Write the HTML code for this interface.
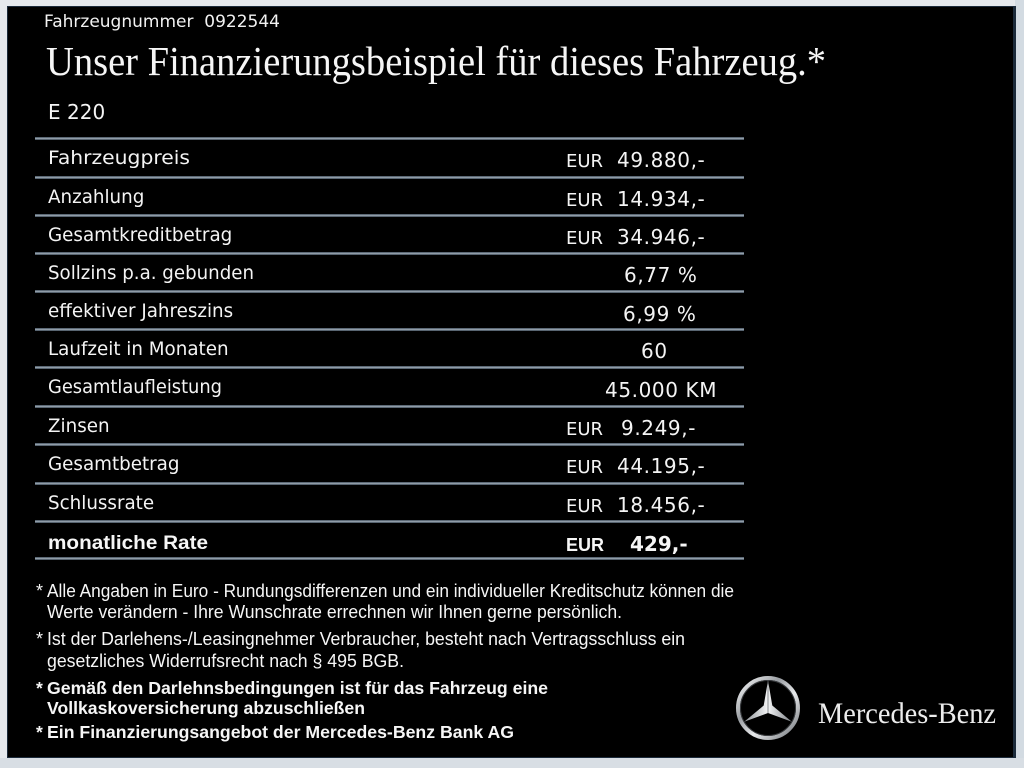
<!DOCTYPE html>
<html>
<head>
<meta charset="utf-8">
<style>
  html,body{margin:0;padding:0;background:#e5e8ec;}
  svg{display:block;}
  .lbl{font-family:"DejaVu Sans",sans-serif;font-size:18.3px;fill:#f4f4f4;}
  .eur{font-family:"DejaVu Sans",sans-serif;font-size:18px;fill:#f4f4f4;}
  .num{font-family:"DejaVu Sans",sans-serif;font-size:20px;fill:#f4f4f4;letter-spacing:0.6px;}
  .fn{font-family:"Liberation Sans",Arial,sans-serif;font-size:18px;fill:#f6f6f6;}
  .fnb{font-family:"Liberation Sans",Arial,sans-serif;font-size:17.5px;font-weight:bold;fill:#f6f6f6;}
</style>
</head>
<body>
<svg width="1024" height="768" viewBox="0 0 1024 768" xmlns="http://www.w3.org/2000/svg">
  <defs>
    <linearGradient id="ln" x1="0" y1="0" x2="0" y2="1">
      <stop offset="0" stop-color="#3a4856"/>
      <stop offset="0.5" stop-color="#a2adb8"/>
      <stop offset="1" stop-color="#34414e"/>
    </linearGradient>
    <linearGradient id="silver" x1="0" y1="0" x2="1" y2="1">
      <stop offset="0" stop-color="#ffffff"/>
      <stop offset="0.35" stop-color="#9a9ea3"/>
      <stop offset="0.6" stop-color="#e8eaec"/>
      <stop offset="1" stop-color="#6d7176"/>
    </linearGradient>
    <linearGradient id="silver2" x1="0" y1="0" x2="1" y2="0">
      <stop offset="0" stop-color="#8e9297"/>
      <stop offset="0.5" stop-color="#f4f5f6"/>
      <stop offset="1" stop-color="#7c8085"/>
    </linearGradient>
  </defs>

  <!-- frame -->
  <rect x="0" y="0" width="1024" height="768" fill="#e6e9ed"/>
  <rect x="1015" y="0" width="9" height="768" fill="#d3dbe2"/>
  <rect x="0" y="758" width="1024" height="10" fill="#d8dee4"/>
  <rect x="7" y="6" width="1009" height="752" fill="#1c2b3b"/>
  <rect x="8" y="7" width="1005" height="750" fill="#000"/>

  <!-- header -->
  <text x="44" y="27" style="font-family:'DejaVu Sans',sans-serif;font-size:17px;fill:#f2f2f2;white-space:pre" xml:space="preserve">Fahrzeugnummer  0922544</text>
  <text x="46" y="75" style="font-family:'Liberation Serif',serif;font-size:41px;fill:#f6f6f6" textLength="780" lengthAdjust="spacingAndGlyphs">Unser Finanzierungsbeispiel für dieses Fahrzeug.*</text>
  <text x="48" y="119" style="font-family:'DejaVu Sans',sans-serif;font-size:20px;fill:#f4f4f4">E 220</text>

  <!-- table lines -->
  <g fill="url(#ln)">
    <rect x="35" y="137" width="709" height="3"/>
    <rect x="35" y="176" width="709" height="3"/>
    <rect x="35" y="214" width="709" height="3"/>
    <rect x="35" y="252" width="709" height="3"/>
    <rect x="35" y="290" width="709" height="3"/>
    <rect x="35" y="328" width="709" height="3"/>
    <rect x="35" y="366" width="709" height="3"/>
    <rect x="35" y="405" width="709" height="3"/>
    <rect x="35" y="443" width="709" height="3"/>
    <rect x="35" y="482" width="709" height="3"/>
    <rect x="35" y="520" width="709" height="3"/>
    <rect x="35" y="557" width="709" height="3"/>
  </g>

  <!-- labels -->
  <text class="lbl" x="48" y="164" textLength="142" lengthAdjust="spacingAndGlyphs">Fahrzeugpreis</text>
  <text class="lbl" x="48" y="203">Anzahlung</text>
  <text class="lbl" x="48" y="241">Gesamtkreditbetrag</text>
  <text class="lbl" x="48" y="279" textLength="206" lengthAdjust="spacingAndGlyphs">Sollzins p.a. gebunden</text>
  <text class="lbl" x="48" y="317">effektiver Jahreszins</text>
  <text class="lbl" x="48" y="355">Laufzeit in Monaten</text>
  <text class="lbl" x="48" y="393" textLength="174" lengthAdjust="spacingAndGlyphs">Gesamtlaufleistung</text>
  <text class="lbl" x="48" y="432">Zinsen</text>
  <text class="lbl" x="48" y="470">Gesamtbetrag</text>
  <text class="lbl" x="48" y="509">Schlussrate</text>
  <text x="48" y="549" style="font-family:'Liberation Sans',Arial,sans-serif;font-size:19.5px;font-weight:bold;fill:#f6f6f6" textLength="160" lengthAdjust="spacingAndGlyphs">monatliche Rate</text>

  <!-- values -->
  <text class="eur" x="566" y="167">EUR</text><text class="num" x="617" y="167">49.880,-</text>
  <text class="eur" x="566" y="206">EUR</text><text class="num" x="617" y="206">14.934,-</text>
  <text class="eur" x="566" y="244">EUR</text><text class="num" x="617" y="244">34.946,-</text>
  <text class="num" x="624" y="282">6,77 %</text>
  <text class="num" x="623" y="321">6,99 %</text>
  <text class="num" x="641" y="358">60</text>
  <text class="num" x="605" y="397">45.000 KM</text>
  <text class="eur" x="566" y="435">EUR</text><text class="num" x="621" y="435">9.249,-</text>
  <text class="eur" x="566" y="473">EUR</text><text class="num" x="617" y="473">44.195,-</text>
  <text class="eur" x="566" y="512">EUR</text><text class="num" x="617" y="512">18.456,-</text>
  <text x="566" y="551" style="font-family:'Liberation Sans',Arial,sans-serif;font-size:18px;font-weight:bold;fill:#f6f6f6">EUR</text>
  <text x="630" y="551" style="font-family:'DejaVu Sans',sans-serif;font-size:20px;font-weight:bold;fill:#f6f6f6">429,-</text>

  <!-- footnotes -->
  <text class="fn" x="36" y="597">*</text>
  <text class="fn" x="47" y="597" textLength="687" lengthAdjust="spacingAndGlyphs">Alle Angaben in Euro - Rundungsdifferenzen und ein individueller Kreditschutz können die</text>
  <text class="fn" x="47" y="618" textLength="575" lengthAdjust="spacingAndGlyphs">Werte verändern - Ihre Wunschrate errechnen wir Ihnen gerne persönlich.</text>
  <text class="fn" x="36" y="645">*</text>
  <text class="fn" x="47" y="645" textLength="638" lengthAdjust="spacingAndGlyphs">Ist der Darlehens-/Leasingnehmer Verbraucher, besteht nach Vertragsschluss ein</text>
  <text class="fn" x="47" y="667" textLength="357" lengthAdjust="spacingAndGlyphs">gesetzliches  Widerrufsrecht nach § 495 BGB.</text>

  <text class="fnb" x="36" y="694">*</text>
  <text class="fnb" x="47" y="694" textLength="501" lengthAdjust="spacingAndGlyphs">Gemäß den Darlehnsbedingungen ist für das Fahrzeug eine</text>
  <text class="fnb" x="47" y="714" textLength="318" lengthAdjust="spacingAndGlyphs">Vollkaskoversicherung abzuschließen</text>
  <text class="fnb" x="36" y="738">*</text>
  <text class="fnb" x="47" y="738" textLength="467" lengthAdjust="spacingAndGlyphs">Ein Finanzierungsangebot der Mercedes-Benz Bank AG</text>

  <!-- logo -->
  <circle cx="768" cy="708" r="30" fill="none" stroke="url(#silver)" stroke-width="4"/>
  <circle cx="768" cy="708" r="27.5" fill="none" stroke="#3a3d40" stroke-width="1"/>
  <polygon points="768,680.5 772.3,705.5 791.8,721.7 768,713 744.2,721.7 763.7,705.5" fill="url(#silver2)"/>
  <polyline points="768,680.5 768,713" stroke="#55595e" stroke-width="0.7" fill="none"/>
  <text x="818" y="723" style="font-family:'Liberation Serif',serif;font-size:30px;fill:#ececec" textLength="178" lengthAdjust="spacingAndGlyphs">Mercedes-Benz</text>
</svg>
</body>
</html>
